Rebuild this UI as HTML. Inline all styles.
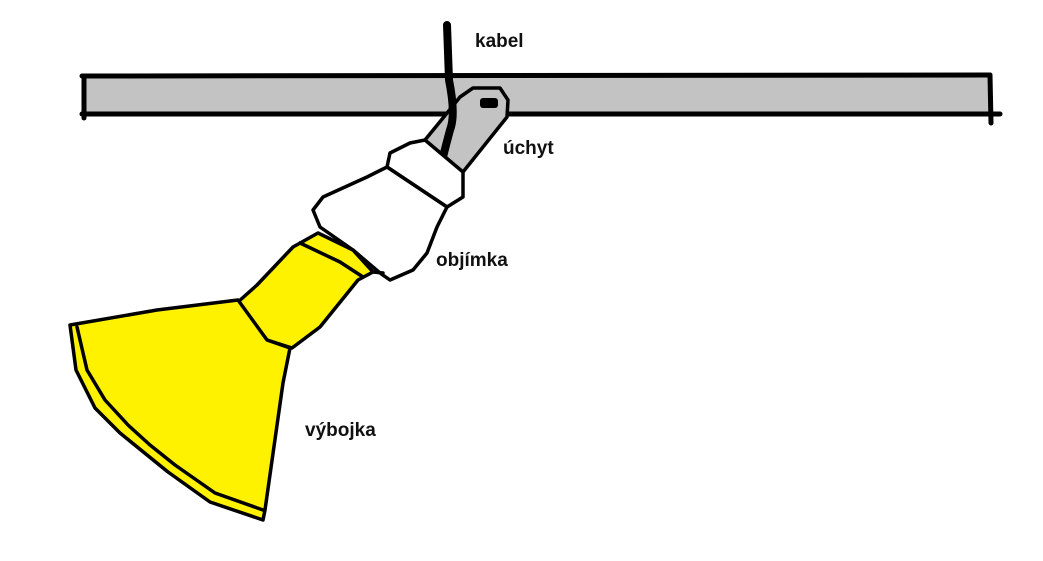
<!DOCTYPE html>
<html><head><meta charset="utf-8"><style>
html,body{margin:0;padding:0;background:#fff;width:1043px;height:561px;overflow:hidden}
svg{display:block}
text{font-family:"Liberation Sans",sans-serif;font-weight:bold;font-size:19px;fill:#111}
</style></head><body>
<svg width="1043" height="561" viewBox="0 0 1043 561">
<g stroke="#000" stroke-linejoin="round" stroke-linecap="round">
<!-- bar -->
<rect x="84" y="76" width="906" height="38" fill="#c3c3c3" stroke="none"/>
<line x1="82" y1="76" x2="990" y2="75" stroke-width="5"/>
<line x1="82" y1="114" x2="1000" y2="114" stroke-width="5"/>
<line x1="84" y1="76" x2="84" y2="118" stroke-width="5"/>
<line x1="990" y1="75" x2="991" y2="123" stroke-width="5"/>
<!-- uchyt -->
<path d="M460,97 L473,88 L500,88 L508,100 L507,117 L463,172 L447,160 L425,140 L443,118 Z" fill="#c3c3c3" stroke-width="3.5"/>
<rect x="480" y="98" width="18" height="10" rx="3" fill="#000" stroke="none"/>
<!-- cable -->
<path d="M447,25 L449,80 Q456,115 450,130 Q446,145 443,157" fill="none" stroke-width="8"/>
<!-- objimka -->
<path d="M425,140 L463,172 L463,197 L447,207 L387,167 L390,153 L410,143 Z" fill="#fff" stroke-width="3.5"/>
<path d="M387,167 L447,207 L437,227 L427,253 L413,270 L390,280 L380,273 L353,250 L320,227 L313,210 L323,197 L367,177 Z" fill="#fff" stroke-width="3.5"/>
<!-- neck -->
<path d="M318,233 L353,250 L373,272 L358,280 L320,327 L292,348 L267,340 L238,302 L257,285 L293,247 Z" fill="#fff200" stroke-width="3.5"/>
<path d="M300,243 L340,262 L363,277" fill="none" stroke-width="3.5"/>
<path d="M373,272 L383,273" fill="none" stroke-width="3.5"/>
<!-- cone -->
<path d="M238,300 L157,310 L70,325 L76,370 L95,408 L120,433 L168,472 L210,502 L263,520 L265,510 L283,383 L290,348 L267,340 Z" fill="#fff200" stroke-width="3.5"/>
<path d="M77,327 L87,370 L105,400 L128,425 L150,445 L175,465 L215,493 L263,510" fill="none" stroke-width="3.5"/>
</g>
<text x="475" y="47">kabel</text>
<text x="503" y="154">úchyt</text>
<text x="436" y="266">objímka</text>
<text x="305" y="436">výbojka</text>
</svg>
</body></html>
